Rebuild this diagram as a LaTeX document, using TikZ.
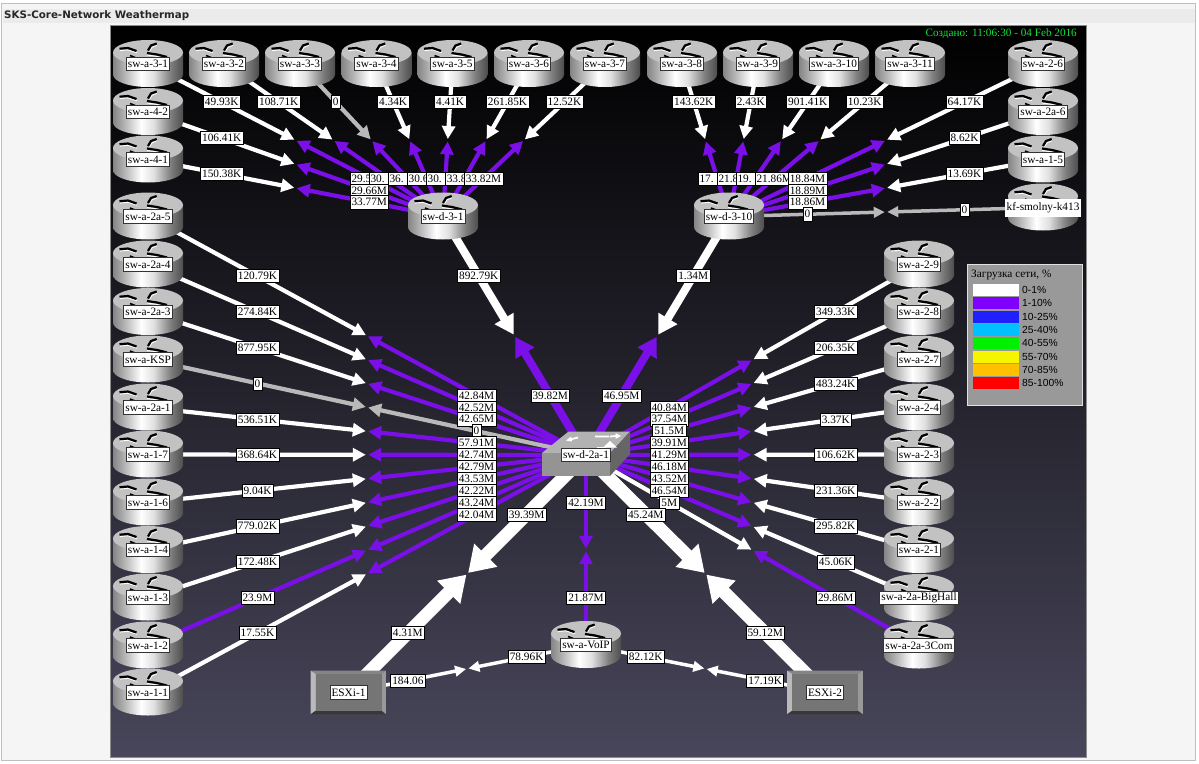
\documentclass[tikz,border=0pt]{standalone}
\usepackage{fontspec}
\setmainfont{Liberation Serif}
\newfontfamily\legfont{Liberation Sans}
\newfontfamily\titlefont{DejaVu Sans}
\usetikzlibrary{calc,arrows.meta}
\definecolor{lw}{RGB}{255,255,255}
\definecolor{lp}{RGB}{122,15,232}
\definecolor{lg}{RGB}{185,185,185}
\definecolor{mapbot}{RGB}{72,70,90}
\definecolor{stampgreen}{RGB}{20,225,60}
\definecolor{c0}{RGB}{255,255,255}
\definecolor{c1}{RGB}{128,0,255}
\definecolor{c2}{RGB}{32,32,255}
\definecolor{c3}{RGB}{0,192,255}
\definecolor{c4}{RGB}{0,240,0}
\definecolor{c5}{RGB}{245,245,0}
\definecolor{c6}{RGB}{255,192,0}
\definecolor{c7}{RGB}{255,0,0}
\pgfdeclarelayer{backdrop}\pgfdeclarelayer{arrows}\pgfdeclarelayer{labels}
\pgfsetlayers{backdrop,arrows,main,labels}
\pgfdeclarehorizontalshading{cyl}{100bp}{color(0bp)=(black!48);color(25bp)=(black!48);color(33bp)=(black!30);color(45bp)=(white);color(54bp)=(black!12);color(66bp)=(black!50);color(75bp)=(black!70);color(100bp)=(black!70)}
\tikzset{
  lab/.style={draw=black,line width=0.55pt,fill=white,inner xsep=1.7pt,inner ysep=0pt,minimum height=13.2pt,text=black,font=\fontsize{11.3}{12}\selectfont},
  rlab/.style={draw=black!80,line width=0.9pt,fill=white,inner xsep=1.6pt,inner ysep=0pt,minimum height=13.4pt,text=black,font=\fontsize{11.3}{12}\selectfont},
  normal/.style={line width=4.2pt,-{Triangle[length=13pt,width=13pt]}},
  thin link/.style={line width=3.5pt,-{Triangle[length=11pt,width=10.5pt]}},
  mid link/.style={line width=8pt,-{Triangle[length=19pt,width=21pt]}},
  big link/.style={line width=13pt,-{Triangle[length=25pt,width=31pt]}},
  leg/.style={font=\legfont\fontsize{10.3}{12}\selectfont,text=black,inner sep=0pt,anchor=west},
}
\newcommand{\trunc}[1]{\makebox[35.5pt][l]{#1}}
% router: name, x, y, label, extra label style
\newcommand{\rt}[5][]{%
  \begin{scope}[shift={(#3,#4)}]
    \shade[shading=cyl] (-35,-11) rectangle (35,11);
    \shade[shading=cyl] (0,11) ellipse [x radius=35,y radius=12.5];
    \fill[black!24] (0,-11) ellipse [x radius=35,y radius=12.5];
    \draw[white,line width=0.9pt] (-28,-12.9) -- (-20,-13.7) -- (-11,-10.7);
    \draw[white,line width=0.9pt] (1.5,-12.2) -- (4,-16.2) -- (9,-18.2);
    \draw[white,line width=0.9pt] (-1,-8.5) -- (9,-7.1) -- (19,-4.7);
    \draw[black,line width=2.2pt] (-28.5,-14.8) -- (-20,-15.5) -- (-11.5,-12.5);
    \draw[black,line width=2.2pt] (0,-13) -- (3,-18) -- (8.7,-20);
    \draw[black,line width=2.2pt] (-1,-10.5) -- (9,-9) -- (19,-6.5);
    \draw[black,line width=1.6pt] (-18,-8) -- (-13,-6);
  \end{scope}
  \node[rlab,#1] (#2) at (#3,#4+0.5) {#5};
}
% link: outer node, inner node, style, outer colour, outer label, inner colour, inner label
\newcommand{\lnk}[7]{%
  \begin{pgfonlayer}{arrows}
    \coordinate (m) at ($(#1.center)!0.5!(#2.center)$);
    \draw[#3,draw=#4,shorten >=1.2pt] (#1.center) -- (m);
    \draw[#3,draw=#6,shorten >=1.2pt] (#2.center) -- (m);
  \end{pgfonlayer}
  \begin{pgfonlayer}{labels}
    \node[lab] at ($(#1.center)!0.25!(#2.center)$) {#5};
    \node[lab] at ($(#1.center)!0.75!(#2.center)$) {#7};
  \end{pgfonlayer}
}
\begin{document}
\begin{tikzpicture}[x=1pt,y=-1pt]
\useasboundingbox (0,0) rectangle (1199,763);
\begin{pgfonlayer}{backdrop}
  \fill[white] (0,0) rectangle (1199,763);
  \draw[fill=black!4,draw=black!25,line width=0.8pt] (1.5,3.5) rectangle (1195.5,760);
  \fill[black!8] (3,8.5) rectangle (1195,23);
  \shade[top color=black,bottom color=mapbot] (110,25) rectangle (1086,757);
  \draw[black!45,line width=0.6pt] (110,25) rectangle (1086,757);
\end{pgfonlayer}
\node[anchor=west,inner sep=0pt,font=\titlefont\bfseries\fontsize{10.3}{12}\selectfont,text=black!85] (title) at (4,15.5) {SKS-Core-Network Weathermap};
\node[anchor=east,inner sep=0pt,font=\fontsize{11.2}{12}\selectfont,text=stampgreen] (stamp) at (1077,33.5) {Создано: 11:06:30 - 04 Feb 2016};
% top row
\rt{a31}{148}{63.5}{sw-a-3-1}
\rt{a32}{224}{63.5}{sw-a-3-2}
\rt{a33}{300}{63.5}{sw-a-3-3}
\rt{a34}{376.5}{63.5}{sw-a-3-4}
\rt{a35}{452.5}{63.5}{sw-a-3-5}
\rt{a36}{529}{63.5}{sw-a-3-6}
\rt{a37}{605}{63.5}{sw-a-3-7}
\rt{a38}{682}{63.5}{sw-a-3-8}
\rt{a39}{758}{63.5}{sw-a-3-9}
\rt{a310}{834}{63.5}{sw-a-3-10}
\rt{a311}{910}{63.5}{sw-a-3-11}
\rt{a26}{1043}{63.5}{sw-a-2-6}
\rt{a2a6}{1043}{111.5}{sw-a-2a-6}
\rt{a15}{1043}{159}{sw-a-1-5}
\rt[draw=none,minimum height=18pt]{kf}{1043}{207}{kf-smolny-k413}
% left columns
\rt{a42}{148}{111.5}{sw-a-4-2}
\rt{a41}{148}{159}{sw-a-4-1}
\rt{a2a5}{148}{216}{sw-a-2a-5}
\rt{a2a4}{148}{264}{sw-a-2a-4}
\rt{a2a3}{148}{311.5}{sw-a-2a-3}
\rt{ksp}{148}{359}{sw-a-KSP}
\rt{a2a1}{148}{407}{sw-a-2a-1}
\rt{a17}{148}{454}{sw-a-1-7}
\rt{a16}{148}{502}{sw-a-1-6}
\rt{a14}{148}{549.5}{sw-a-1-4}
\rt{a13}{148}{597}{sw-a-1-3}
\rt{a12}{148}{645}{sw-a-1-2}
\rt{a11}{148}{692}{sw-a-1-1}
% right column
\rt{a29}{919}{264}{sw-a-2-9}
\rt{a28}{919}{311.5}{sw-a-2-8}
\rt{a27}{919}{359}{sw-a-2-7}
\rt{a24}{919}{407}{sw-a-2-4}
\rt{a23}{919}{454}{sw-a-2-3}
\rt{a22}{919}{502}{sw-a-2-2}
\rt{a21}{919}{549.5}{sw-a-2-1}
\rt{big}{919}{597.5}{sw-a-2a-BigHall}
\rt{com}{919}{645}{sw-a-2a-3Com}
% distribution
\rt{d31}{443}{216}{sw-d-3-1}
\rt{d310}{729}{216}{sw-d-3-10}
\rt{voip}{586}{644.5}{sw-a-VoIP}
% core switch
\fill[black!30] (541.7,453.3) -- (568.3,431.7) -- (630,431.7) -- (610,453.3) -- cycle;
\fill[black!42] (541.7,453.3) rectangle (610,476);
\fill[black!60] (610,453.3) -- (630,431.7) -- (630,454) -- (610,476) -- cycle;
\draw[white,line width=1.8pt] (570,439.5) -- (578,437.5) (595,436.5) -- (609,436.5) (610,436.5) -- (616,436) (597,448) -- (606,448);
\fill[white] (566,440.5) -- (571,436.5) -- (572,441.5) -- cycle;
\fill[white] (621,436) -- (615.5,433) -- (615.5,439) -- cycle;
\fill[white] (603,447.5) -- (610,441) -- (617,447.5) -- cycle;
\node[rlab] (core) at (586,455) {sw-d-2a-1};
% hosts
\fill[black!40] (310.5,670.7) rectangle (386,714.3);
\fill[black!48] (310.5,670.7) -- (386,670.7) -- (381.5,674) -- (315.7,674) -- cycle;
\fill[black!27] (310.5,670.7) -- (315.7,674) -- (315.7,710.7) -- (310.5,714.3) -- cycle;
\fill[black!78] (310.5,714.3) -- (315.7,710.7) -- (381.5,710.7) -- (386,714.3) -- cycle;
\fill[black!54] (315.7,674) rectangle (381.5,710.7);
\node[rlab] (esx1) at (348.5,692.5) {ESXi-1};
\fill[black!40] (787,670.7) rectangle (862.5,714.3);
\fill[black!48] (787,670.7) -- (862.5,670.7) -- (858,674) -- (792.2,674) -- cycle;
\fill[black!27] (787,670.7) -- (792.2,674) -- (792.2,710.7) -- (787,714.3) -- cycle;
\fill[black!78] (787,714.3) -- (792.2,710.7) -- (858,710.7) -- (862.5,714.3) -- cycle;
\fill[black!54] (792.2,674) rectangle (858,710.7);
\node[rlab] (esx2) at (825,692.5) {ESXi-2};
% links to sw-d-3-1
\lnk{a31}{d31}{normal}{lw}{49.93K}{lp}{\trunc{29.5}}
\lnk{a32}{d31}{normal}{lw}{108.71K}{lp}{\trunc{30.}}
\lnk{a33}{d31}{normal}{lg}{0}{lp}{\trunc{36.}}
\lnk{a34}{d31}{normal}{lw}{4.34K}{lp}{\trunc{30.6}}
\lnk{a35}{d31}{normal}{lw}{4.41K}{lp}{\trunc{30.}}
\lnk{a36}{d31}{normal}{lw}{261.85K}{lp}{\trunc{33.8}}
\lnk{a37}{d31}{normal}{lw}{12.52K}{lp}{33.82M}
\lnk{a42}{d31}{normal}{lw}{106.41K}{lp}{29.66M}
\lnk{a41}{d31}{normal}{lw}{150.38K}{lp}{33.77M}
% links to sw-d-3-10
\lnk{a38}{d310}{normal}{lw}{143.62K}{lp}{\trunc{17.}}
\lnk{a39}{d310}{normal}{lw}{2.43K}{lp}{\trunc{21.8}}
\lnk{a310}{d310}{normal}{lw}{901.41K}{lp}{\trunc{19.}}
\lnk{a311}{d310}{normal}{lw}{10.23K}{lp}{21.86M}
\lnk{a26}{d310}{normal}{lw}{64.17K}{lp}{18.84M}
\lnk{a2a6}{d310}{normal}{lw}{8.62K}{lp}{18.89M}
\lnk{a15}{d310}{normal}{lw}{13.69K}{lp}{18.86M}
\lnk{kf}{d310}{thin link}{lg}{0}{lg}{0}
% core uplinks
\lnk{d31}{core}{mid link}{lw}{892.79K}{lp}{39.82M}
\lnk{d310}{core}{mid link}{lw}{1.34M}{lp}{46.95M}
% left access
\lnk{a2a5}{core}{normal}{lw}{120.79K}{lp}{42.84M}
\lnk{a2a4}{core}{normal}{lw}{274.84K}{lp}{42.52M}
\lnk{a2a3}{core}{normal}{lw}{877.95K}{lp}{42.65M}
\lnk{ksp}{core}{normal}{lg}{0}{lg}{0}
\lnk{a2a1}{core}{normal}{lw}{536.51K}{lp}{57.91M}
\lnk{a17}{core}{normal}{lw}{368.64K}{lp}{42.74M}
\lnk{a16}{core}{normal}{lw}{9.04K}{lp}{42.79M}
\lnk{a14}{core}{normal}{lw}{779.02K}{lp}{43.53M}
\lnk{a13}{core}{normal}{lw}{172.48K}{lp}{42.22M}
\lnk{a12}{core}{normal}{lp}{23.9M}{lp}{43.24M}
\lnk{a11}{core}{normal}{lw}{17.55K}{lp}{42.04M}
% right access
\lnk{a29}{core}{normal}{lw}{349.33K}{lp}{40.84M}
\lnk{a28}{core}{normal}{lw}{206.35K}{lp}{37.54M}
\lnk{a27}{core}{normal}{lw}{483.24K}{lp}{51.5M}
\lnk{a24}{core}{normal}{lw}{3.37K}{lp}{39.91M}
\lnk{a23}{core}{normal}{lw}{106.62K}{lp}{41.29M}
\lnk{a22}{core}{normal}{lw}{231.36K}{lp}{46.18M}
\lnk{a21}{core}{normal}{lw}{295.82K}{lp}{43.52M}
\lnk{big}{core}{normal}{lw}{45.06K}{lp}{46.54M}
\lnk{com}{core}{normal}{lp}{29.86M}{lw}{5M}
% bottom
\lnk{esx1}{core}{big link}{lw}{4.31M}{lw}{39.39M}
\lnk{esx2}{core}{big link}{lw}{59.12M}{lw}{45.24M}
\lnk{voip}{core}{normal}{lp}{21.87M}{lp}{42.19M}
\lnk{esx1}{voip}{thin link}{lw}{184.06}{lw}{78.96K}
\lnk{esx2}{voip}{thin link}{lw}{17.19K}{lw}{82.12K}
% legend
\draw[fill=black!40,draw=black!12,line width=0.9pt] (967.7,264.3) rectangle (1082.7,405.7);
\node[anchor=west,inner sep=0pt,font=\fontsize{11.3}{12}\selectfont,text=black] (legtitle) at (971,275) {Загрузка сети, \%};
\foreach \i/\t in {0/0-1\%,1/1-10\%,2/10-25\%,3/25-40\%,4/40-55\%,5/55-70\%,6/70-85\%,7/85-100\%}{
  \fill[c\i] (973.3,{284+13.33*\i}) rectangle (1019,{296+13.33*\i});
  \node[leg] (legrow\i) at (1022,{290+13.33*\i}) {\t};
}
\end{tikzpicture}
\end{document}
